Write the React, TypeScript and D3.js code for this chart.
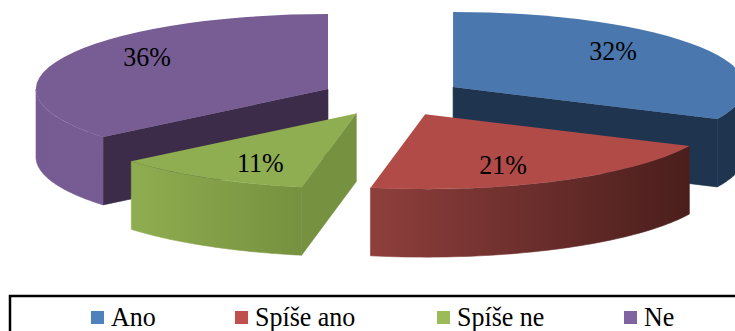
import React from "react";
import * as d3 from "d3";

// Survey shares, one slice per answer
const categories = ["Ano", "Spíše ano", "Spíše ne", "Ne"];
const percentages = [32, 21, 11, 36];

const topColors = ["#4a78ae", "#b14b48", "#8fae52", "#775d94"];
const edgeColors = ["#1f344f", "#4a1e1c", "#76913f", "#3c2c4a"];
const rimFrom = ["#1f344f", "#8e3f3c", "#8fad50", "#765b92"];
const rimTo = ["#1f344f", "#4a1e1c", "#76913f", "#775c93"];
const legendColors = ["#4f81bd", "#c0504d", "#9bbb59", "#8064a2"];
const legendBoxX = [91, 235, 437, 624];
// Label offset from each slice's apex
const labelShift: [number, number][] = [[160, -27], [78, 60], [-96, 58], [-181, -23]];
// Drawing order, back slices first
const paintOrder = [3, 0, 2, 1];

const WIDTH = 735;
const HEIGHT = 331;
const CX = 392.7;
const CY = 97.2;
const RX = 292;
const RY = 75;
const DEPTH = 68;
const EXPLODE_X = 71.5;
const EXPLODE_Y = 19;
const FONT = "'Liberation Serif', 'Times New Roman', serif";

const slices = d3.pie<number>().sort(null).startAngle(0).endAngle(2 * Math.PI)(percentages);

// Screen position of an angle on the tilted rim, 0 at twelve o'clock, clockwise
const rim = (a: number, ox: number, oy: number): [number, number] => [
  ox + RX * Math.sin(a),
  oy - RY * Math.cos(a),
];

const toPath = d3.line<[number, number]>();

export default function App() {
  const topArc = d3.arc<d3.PieArcDatum<number>>().innerRadius(0).outerRadius(1);

  const parts = paintOrder.map((i) => {
    const s = slices[i];
    const mid = (s.startAngle + s.endAngle) / 2;
    const ox = CX + EXPLODE_X * Math.sin(mid);
    const oy = CY - EXPLODE_Y * Math.cos(mid);
    // Only the front half of the rim faces the viewer
    const from = Math.max(s.startAngle, Math.PI / 2);
    const to = Math.min(s.endAngle, (3 * Math.PI) / 2);
    const angles = d3.range(0, 61).map((k) => from + ((to - from) * k) / 60);
    const upper = angles.map((a) => rim(a, ox, oy));
    const lower = upper.map(([x, y]) => [x, y + DEPTH] as [number, number]).reverse();
    const xs = upper.map((p) => p[0]);
    const visibleLeft = d3.min(xs) as number;
    const visibleRight = Math.min(d3.max(xs) as number, WIDTH);
    const wall = (a: number) => {
      const [x, y] = rim(a, ox, oy);
      return toPath([[ox, oy], [x, y], [x, y + DEPTH], [ox, oy + DEPTH]]) + "Z";
    };
    // A cut face shows only on the side of the slice turned towards the viewer
    const cuts = [
      ...(Math.sin(s.startAngle) < -1e-6 ? [s.startAngle] : []),
      ...(Math.sin(s.endAngle) > 1e-6 ? [s.endAngle] : []),
    ];
    return { i, s, ox, oy, upper, lower, visibleLeft, visibleRight, wall, cuts };
  });

  return (
    <svg
      width={WIDTH}
      height={HEIGHT}
      style={{ position: "absolute", left: 0, top: 0, background: "#fff" }}
      fontFamily={FONT}
    >
      <defs>
        {parts.map((p) => (
          <linearGradient
            key={p.i}
            id={`rim-${p.i}`}
            gradientUnits="userSpaceOnUse"
            x1={p.visibleLeft}
            x2={p.visibleRight}
            y1={0}
            y2={0}
          >
            <stop offset="0" stopColor={rimFrom[p.i]} />
            <stop offset="1" stopColor={rimTo[p.i]} />
          </linearGradient>
        ))}
      </defs>

      {parts.map((p) => (
        <g key={p.i}>
          {p.cuts.map((a) => (
            <path
              key={a}
              d={p.wall(a)}
              fill={edgeColors[p.i]}
              stroke={edgeColors[p.i]}
              strokeWidth={0.6}
            />
          ))}
          <path
            d={toPath([...p.upper, ...p.lower]) + "Z"}
            fill={`url(#rim-${p.i})`}
            stroke={`url(#rim-${p.i})`}
            strokeWidth={0.6}
          />
          <path
            d={topArc(p.s) as string}
            transform={`translate(${p.ox},${p.oy}) scale(${RX},${RY})`}
            fill={topColors[p.i]}
          />
        </g>
      ))}

      {parts.map((p) => (
        <text
          key={p.i}
          textAnchor="middle"
          fontSize={26}
          fill="#000"
          transform={`translate(${p.ox + labelShift[p.i][0]},${p.oy + labelShift[p.i][1]}) scale(1,1.08)`}
        >
          {percentages[p.i]}%
        </text>
      ))}

      <rect x={10} y={296} width={WIDTH + 20} height={HEIGHT} fill="none" stroke="#000" strokeWidth={2.5} />
      {categories.map((c, i) => (
        <g key={c}>
          <rect x={legendBoxX[i]} y={311} width={13} height={13} fill={legendColors[i]} />
          <text
            fontSize={26}
            fill="#000"
            transform={`translate(${legendBoxX[i] + 20},326) scale(1,1.08)`}
          >
            {c}
          </text>
        </g>
      ))}
    </svg>
  );
}
